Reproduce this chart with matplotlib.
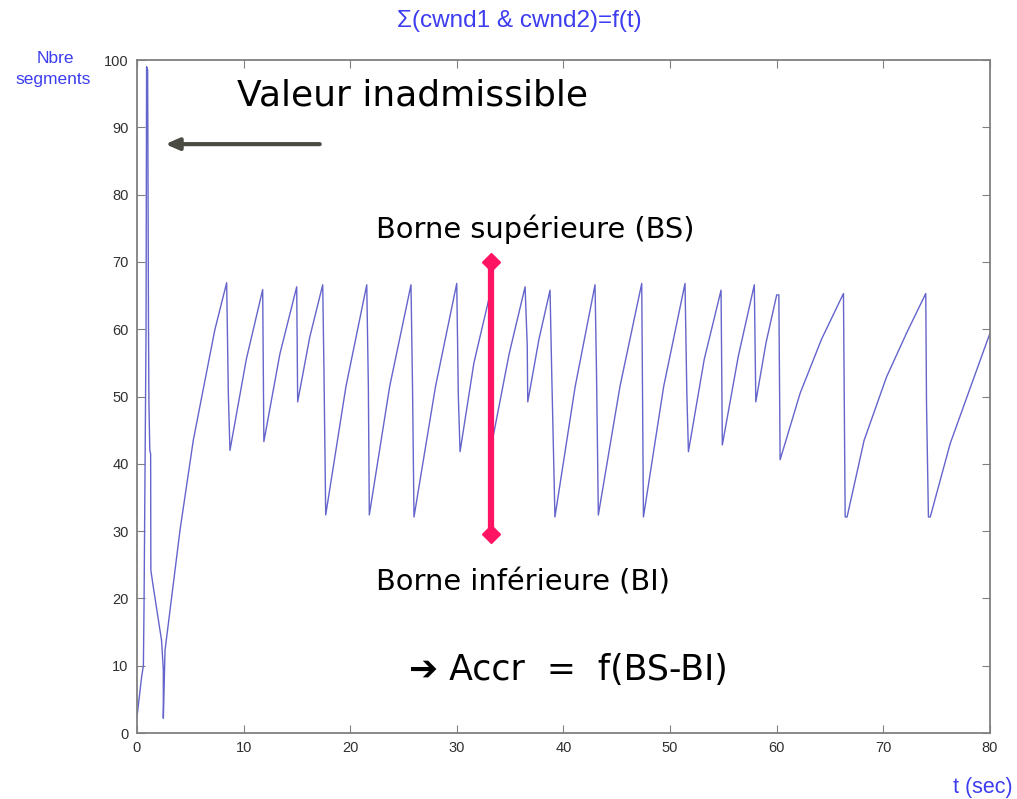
import matplotlib.pyplot as plt

# sum of the two congestion windows, read every ~0.1-2 s
t = [0.0, 0.44, 0.6, 0.66, 0.85, 0.9, 1.0, 1.08, 1.12, 1.2, 1.28, 1.3, 1.5, 2.3,
     2.47, 2.47, 2.63, 4.04, 5.28, 7.3, 8.41, 8.57, 8.72, 10.25, 11.79, 11.9,
     13.4, 14.98, 15.07, 16.2, 17.42, 17.54, 17.7, 19.6, 21.55, 21.7, 21.79,
     23.7, 25.7, 25.85, 25.98, 28.0, 29.99, 30.14, 30.3, 31.6, 33.3, 33.4,
     34.9, 36.4, 36.6, 36.65, 37.7, 38.74, 38.9, 39.2, 41.1, 42.96, 43.1,
     43.27, 45.3, 47.34, 47.5, 49.4, 51.4, 51.57, 51.72, 53.2, 54.78, 54.9,
     56.4, 57.9, 58.04, 59.0, 60.0, 60.2, 60.32, 62.2, 64.2, 66.26, 66.42,
     66.6, 68.2, 70.3, 72.2, 73.98, 74.05, 74.23, 74.4, 76.27, 78.2, 80.0]
cwnd = [2.4, 8.4, 10.0, 18.8, 60.0, 99.0, 98.5, 60.0, 49.2, 42.0, 41.5, 24.2, 22.0, 13.8,
        9.4, 2.2, 12.3, 30.2, 43.5, 59.9, 66.9, 50.2, 42.0, 55.5, 65.9, 43.3,
        56.3, 66.3, 49.2, 58.8, 66.6, 53.4, 32.4, 51.5, 66.6, 51.5, 32.4,
        51.5, 66.6, 50.5, 32.1, 51.5, 66.8, 50.0, 41.8, 55.0, 66.5, 44.0,
        56.3, 66.3, 57.7, 49.2, 58.5, 65.8, 53.4, 32.1, 51.5, 66.6, 53.4,
        32.4, 51.5, 66.8, 32.1, 51.5, 66.8, 50.5, 41.8, 55.5, 65.8, 42.8,
        56.0, 66.6, 49.2, 58.0, 65.1, 65.1, 40.6, 50.5, 58.5, 65.3, 32.1,
        32.1, 43.5, 52.9, 59.5, 65.3, 49.0, 32.1, 32.1, 43.0, 51.5, 59.4]

x_ticks = [0, 10, 20, 30, 40, 50, 60, 70, 80]
y_ticks = [0, 10, 20, 30, 40, 50, 60, 70, 80, 90, 100]

# amplitude bar: upper and lower bound of the steady oscillation
bar_t = 33.2
bs, bi = 70.0, 29.5

blue = '#3c3cf0'
fig = plt.figure(figsize=(10.17, 7.99), dpi=100)
ax = fig.add_axes([0.1347, 0.0826, 0.8387, 0.8423])

ax.plot(t, cwnd, color='#6464cc', linewidth=1.0)
ax.plot([bar_t, bar_t], [bi, bs], color='#ff1464', linewidth=4.5,
        marker='D', markersize=9, solid_capstyle='butt')

ax.set_xlim(0, 80)
ax.set_ylim(0, 100)
ax.set_xticks(x_ticks)
ax.set_yticks(y_ticks)
ax.tick_params(direction='in', top=True, right=True, length=6, color='#808080',
               labelcolor='#303030', labelsize=10.5, pad=6)
for lab in ax.get_xticklabels() + ax.get_yticklabels():
    lab.set_family('Liberation Sans')
for s in ax.spines.values():
    s.set_color('#808080')
    s.set_linewidth(1.3)

fig.text(0.511, 0.974, 'Σ(cwnd1 & cwnd2)=f(t)', color=blue, ha='center', va='center',
         fontsize=17.5, family='Liberation Sans')
fig.text(0.054, 0.927, 'Nbre', color=blue, ha='center', va='center',
         fontsize=12.5, family='Liberation Sans')
fig.text(0.052, 0.901, 'segments', color=blue, ha='center', va='center',
         fontsize=12.5, family='Liberation Sans')
fig.text(0.966, 0.015, 't (sec)', color=blue, ha='center', va='center',
         fontsize=15.5, family='Liberation Sans')

ax.text(9.4, 94.8, 'Valeur inadmissible', fontsize=26, ha='left', va='center')
ax.annotate('', xy=(2.4, 87.5), xytext=(17.4, 87.5),
            arrowprops=dict(arrowstyle='-|>,head_length=0.8,head_width=0.35',
                            color='#4a4c44', lw=3))
ax.text(22.4, 74.8, 'Borne supérieure (BS)', fontsize=20.8, ha='left', va='center')
ax.text(22.4, 22.3, 'Borne inférieure (BI)', fontsize=20.8, ha='left', va='center')
ax.text(25.5, 9.3, '➔ Accr  =  f(BS-BI)', fontsize=25, ha='left', va='center')

fig.savefig('out.png', dpi=100)
